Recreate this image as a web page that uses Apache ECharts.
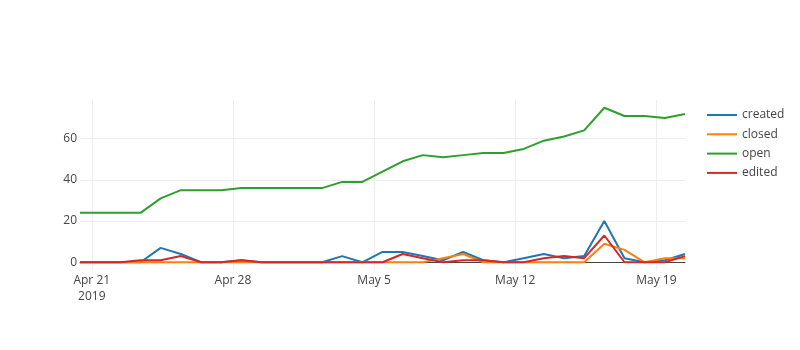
<!DOCTYPE html>
<html>
<head>
<meta charset="utf-8">
<script src="https://cdn.jsdelivr.net/npm/echarts@6/dist/echarts.min.js"></script>
<style>
html,body{margin:0;padding:0;background:#fff;}
#chart{width:800px;height:350px;}
</style>
</head>
<body>
<div id="chart"></div>
<script>
// Daily samples (taken at 10:00 each day)
const dates = [
  '2019-04-20','2019-04-21','2019-04-22','2019-04-23','2019-04-24','2019-04-25','2019-04-26',
  '2019-04-27','2019-04-28','2019-04-29','2019-04-30','2019-05-01','2019-05-02','2019-05-03',
  '2019-05-04','2019-05-05','2019-05-06','2019-05-07','2019-05-08','2019-05-09','2019-05-10',
  '2019-05-11','2019-05-12','2019-05-13','2019-05-14','2019-05-15','2019-05-16','2019-05-17',
  '2019-05-18','2019-05-19','2019-05-20'
];
const sampleHour = 10;
const created = [0,0,0,0,7,4,0,0,1,0,0,0,0,3,0,5,5,3,1,5,1,0,2,4,2,3,20,2,0,1,4];
const closed  = [0,0,0,0,0,0,0,0,0,0,0,0,0,0,0,0,0,0,2,4,0,0,0,0,0,0,9,6,0,2,2];
const open    = [24,24,24,24,31,35,35,35,36,36,36,36,36,39,39,44,49,52,51,52,53,53,55,59,61,64,75,71,71,70,72];
const edited  = [0,0,0,1,1,3,0,0,1,0,0,0,0,0,0,0,4,2,0,1,1,0,0,2,3,2,13,0,0,0,3];
const seriesNames = ['created','closed','open','edited'];
const seriesColors = ['#1f77b4','#ff7f0e','#2ca02c','#d62728'];
const xTickDates = ['2019-04-21','2019-04-28','2019-05-05','2019-05-12','2019-05-19'];
const yTicks = [0, 20, 40, 60];

const DAY = 86400000;
const base = Date.UTC(2019,3,21);
function dayStart(s){
  const p = s.split('-').map(Number);
  return (Date.UTC(p[0],p[1]-1,p[2]) - base)/DAY;
}
const xs = dates.map(s => dayStart(s) + sampleHour/24);
const tickXs = xTickDates.map(dayStart);
const months = ['Jan','Feb','Mar','Apr','May','Jun','Jul','Aug','Sep','Oct','Nov','Dec'];

const allVals = created.concat(closed, open, edited);
const vmin = Math.min.apply(null, allVals), vmax = Math.max.apply(null, allVals);
const pad = (vmax - vmin) * 0.05;

const seriesData = [created, closed, open, edited];
const chart = echarts.init(document.getElementById('chart'));
const font = '"Open Sans", verdana, arial, sans-serif';
chart.setOption({
  animation: false,
  textStyle: { fontFamily: font },
  grid: { left: 80, right: 115, top: 100, bottom: 80, containLabel: false },
  legend: {
    orient: 'vertical',
    left: 702,
    top: 103,
    icon: 'rect',
    itemWidth: 30,
    itemHeight: 2,
    itemGap: 5.3,
    textStyle: { fontFamily: font, fontSize: 12, color: '#444', lineHeight: 14 },
    data: seriesNames
  },
  xAxis: {
    type: 'value',
    min: xs[0],
    max: xs[xs.length-1],
    axisLine: { onZero: true, lineStyle: { color: '#444', width: 1 } },
    axisTick: { show: false, customValues: tickXs },
    splitLine: { show: true, showMinLine: true, showMaxLine: true, lineStyle: { color: '#eee', width: 1 } },
    axisLabel: {
      customValues: tickXs,
      showMinLabel: true, showMaxLabel: true,
      margin: 3,
      fontFamily: font, fontSize: 12, color: '#444', lineHeight: 16,
      formatter: function(v){
        const d = new Date(base + Math.round(v)*DAY);
        let s = months[d.getUTCMonth()] + ' ' + d.getUTCDate();
        if (Math.abs(v - tickXs[0]) < 1e-6) s += '\n' + d.getUTCFullYear();
        return s;
      }
    }
  },
  yAxis: {
    type: 'value',
    min: vmin - pad,
    max: vmax + pad,
    axisLine: { show: false },
    axisTick: { show: false, customValues: yTicks },
    splitLine: { show: true, showMinLine: true, showMaxLine: true, lineStyle: { color: '#eee', width: 1 } },
    axisLabel: {
      customValues: yTicks,
      showMinLabel: true, showMaxLabel: true,
      margin: 3,
      fontFamily: font, fontSize: 12, color: '#444'
    }
  },
  series: seriesNames.map((n, i) => ({
    name: n,
    type: 'line',
    data: seriesData[i].map((v, k) => [xs[k], v]),
    showSymbol: false,
    symbol: 'none',
    lineStyle: { width: 2, color: seriesColors[i] },
    itemStyle: { color: seriesColors[i] },
    emphasis: { disabled: true }
  }))
});
</script>
</body>
</html>
